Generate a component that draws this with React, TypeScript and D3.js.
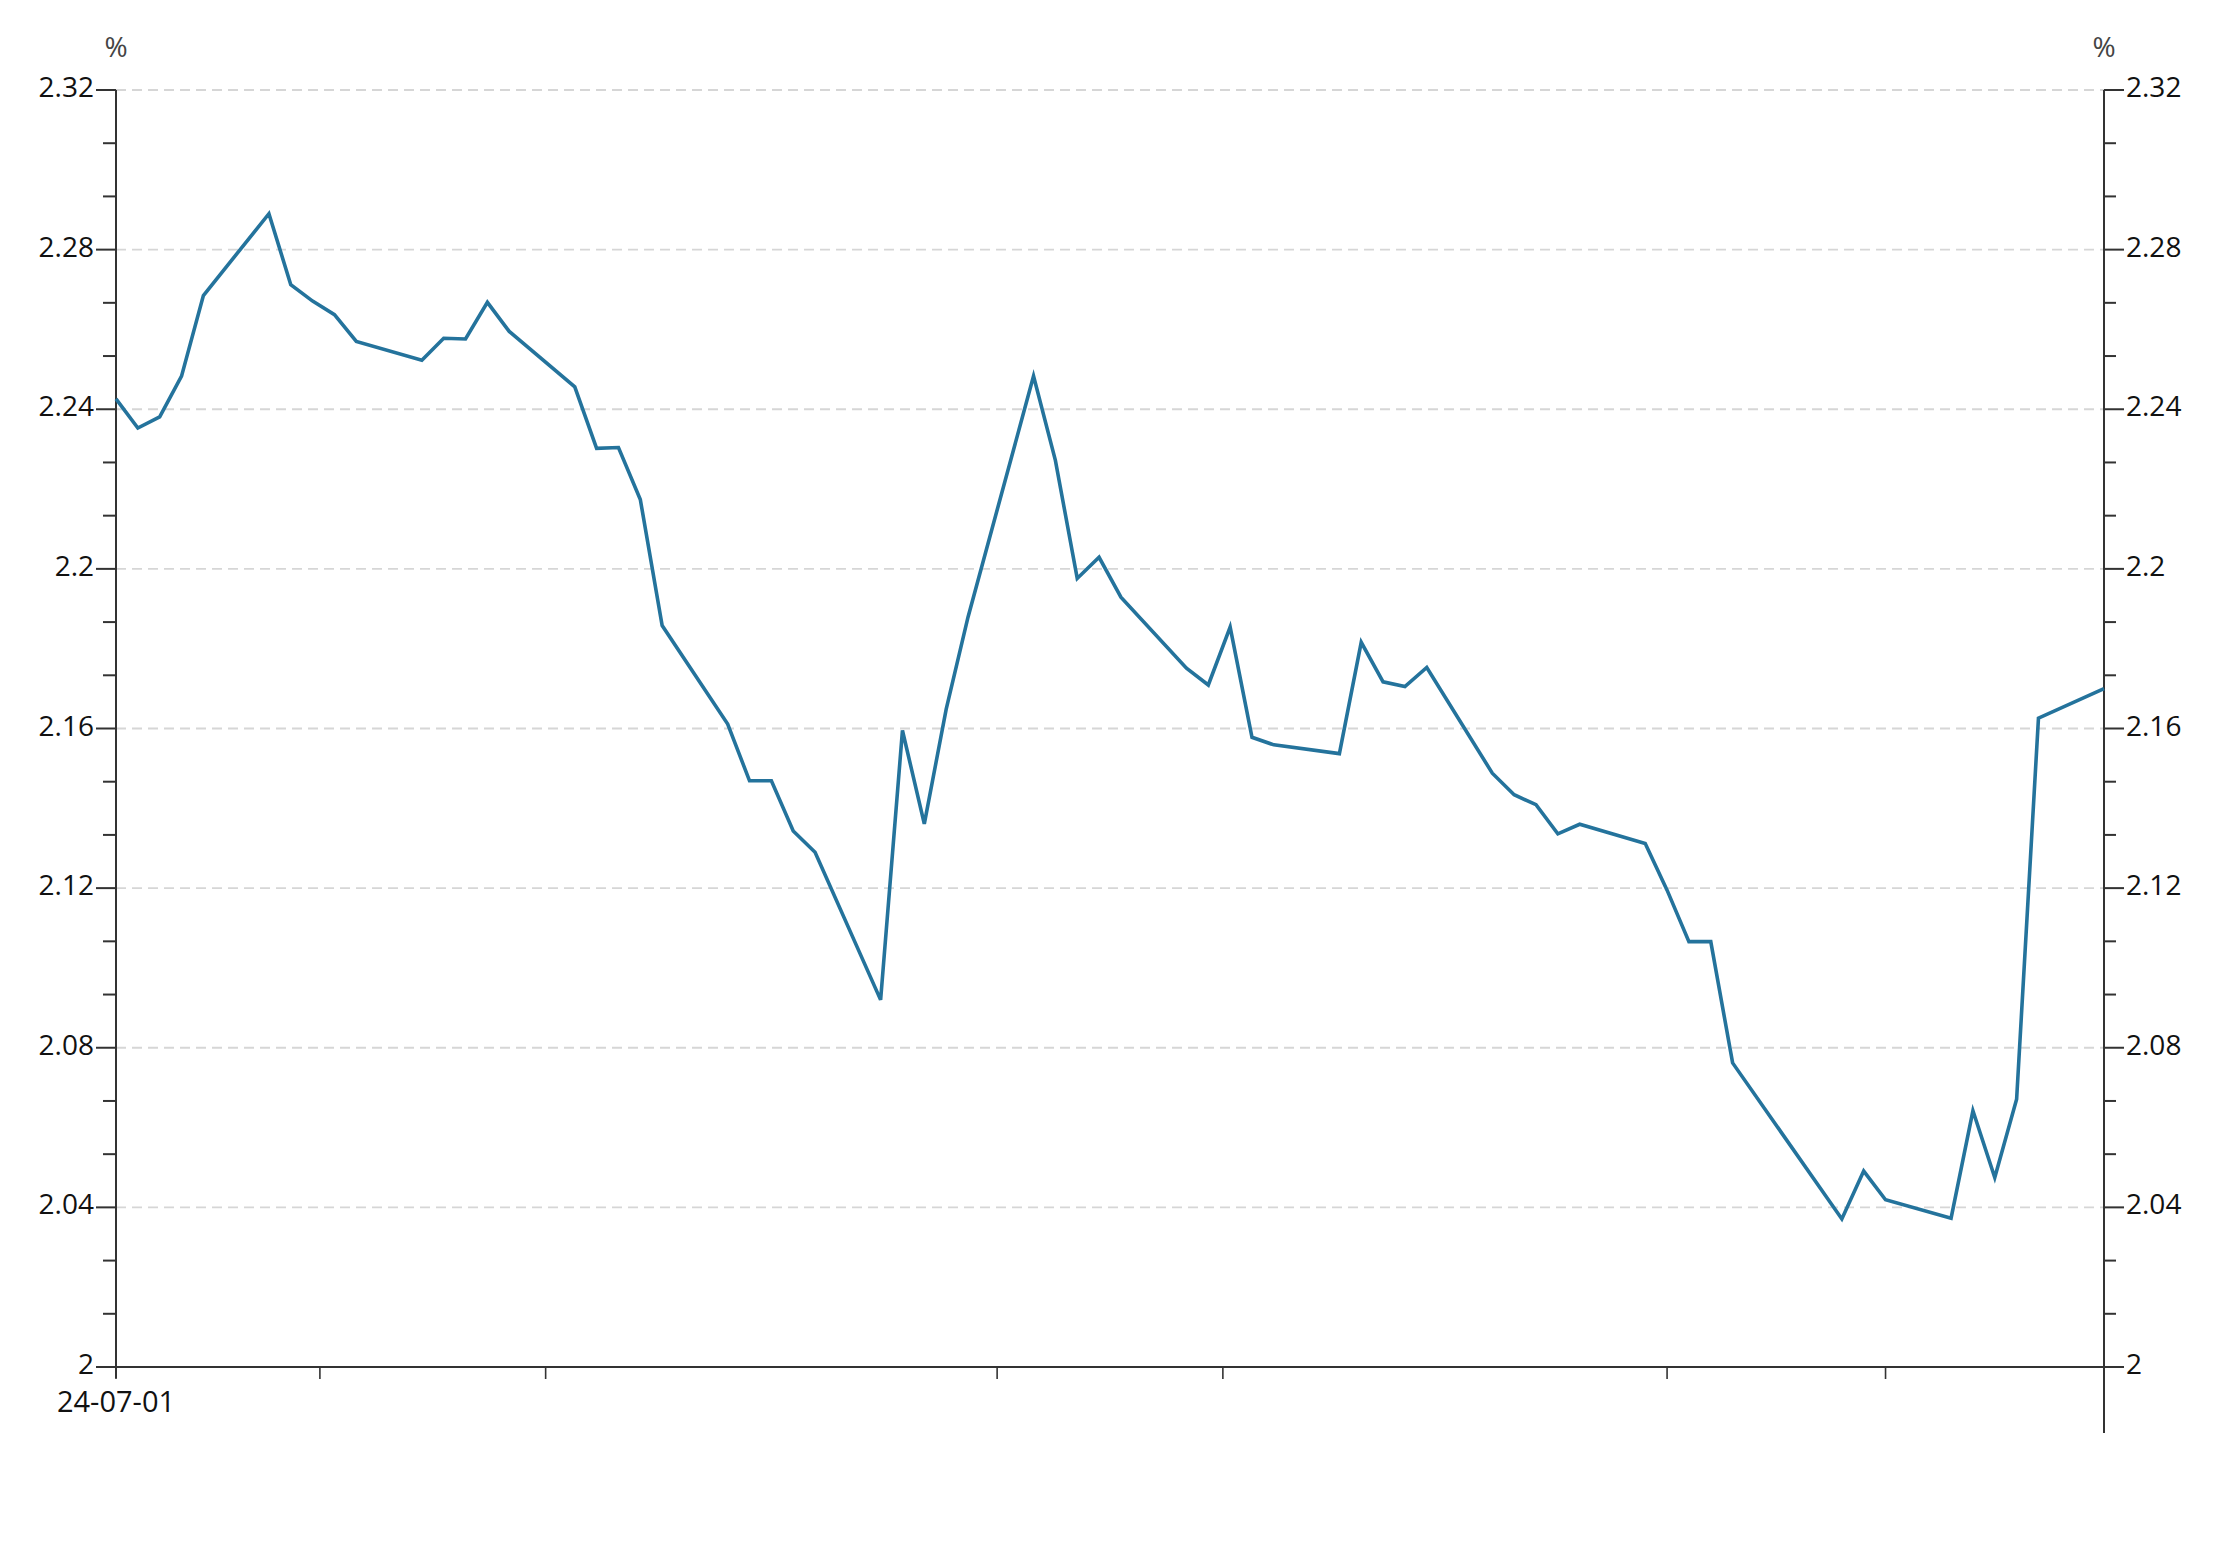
import React from "react";
import * as d3 from "d3";

// ---- data (China 10Y yield, %) ----
const dates: string[] = [
  "2024-07-01", "2024-07-02", "2024-07-03", "2024-07-04", "2024-07-05",
  "2024-07-08", "2024-07-09", "2024-07-10", "2024-07-11", "2024-07-12",
  "2024-07-15", "2024-07-16", "2024-07-17", "2024-07-18", "2024-07-19",
  "2024-07-22", "2024-07-23", "2024-07-24", "2024-07-25", "2024-07-26",
  "2024-07-29", "2024-07-30", "2024-07-31", "2024-08-01", "2024-08-02",
  "2024-08-05", "2024-08-06", "2024-08-07", "2024-08-08", "2024-08-09",
  "2024-08-12", "2024-08-13", "2024-08-14", "2024-08-15", "2024-08-16",
  "2024-08-19", "2024-08-20", "2024-08-21", "2024-08-22", "2024-08-23",
  "2024-08-26", "2024-08-27", "2024-08-28", "2024-08-29", "2024-08-30",
  "2024-09-02", "2024-09-03", "2024-09-04", "2024-09-05", "2024-09-06",
  "2024-09-09", "2024-09-10", "2024-09-11", "2024-09-12", "2024-09-13",
  "2024-09-18", "2024-09-19", "2024-09-20",
  "2024-09-23", "2024-09-24", "2024-09-25", "2024-09-26", "2024-09-27",
  "2024-09-30",
];

const values: number[] = [
  2.2426, 2.2353, 2.2381, 2.2483, 2.2685,
  2.289, 2.2712, 2.2671, 2.2637, 2.257,
  2.2523, 2.2578, 2.2576, 2.2668, 2.2595,
  2.2456, 2.2302, 2.2304, 2.2174, 2.1858,
  2.1611, 2.1469, 2.1469, 2.1343, 2.129,
  2.092, 2.1595, 2.1361, 2.1648, 2.1879,
  2.2483, 2.2272, 2.1976, 2.2029, 2.1929,
  2.1751, 2.1709, 2.1854, 2.1578, 2.1559,
  2.1537, 2.1816, 2.1717, 2.1705, 2.1753,
  2.1488, 2.1434, 2.1409, 2.1336, 2.136,
  2.1312, 2.1195, 2.1066, 2.1066, 2.0762,
  2.0371, 2.0491, 2.0419,
  2.0373, 2.0642, 2.0475, 2.0671, 2.1626,
  2.17,
];

const xDomain: string[] = ["2024-07-01", "2024-09-30"];
const xTickDates: string[] = [
  "2024-07-01T00:00", "2024-07-10T08:00", "2024-07-20T16:00",
  "2024-08-10T08:00", "2024-08-20T16:00", "2024-09-10T00:00", "2024-09-20T00:00",
];
const xTickLabels: string[] = ["24-07-01", "", "", "", "", "", ""];

const yDomain: number[] = [2, 2.32];
const yMajorTicks: number[] = [2, 2.04, 2.08, 2.12, 2.16, 2.2, 2.24, 2.28, 2.32];
const yTickLabels: string[] = ["2", "2.04", "2.08", "2.12", "2.16", "2.2", "2.24", "2.28", "2.32"];
const unitLabel = "%";

// ---- layout ----
const W = 2220;
const H = 1546;
const LEFT = 116;
const RIGHT = 2104;
const TOP = 90;
const BOTTOM = 1367;
const FONT = "'Open Sans', 'Noto Sans', sans-serif";
const LINE_COLOR = "#24739c";
const AXIS_COLOR = "#333333";
const TEXT_COLOR = "#111111";

export default function App() {
  const parse = (s: string) => new Date(s.length > 10 ? s : s + "T00:00");
  const x = d3.scaleTime().domain(xDomain.map(parse)).range([LEFT, RIGHT]);
  const y = d3.scaleLinear().domain(yDomain).range([BOTTOM, TOP]);

  const pts = dates.map((d, i) => ({ date: parse(d), value: values[i] }));
  const line = d3
    .line<{ date: Date; value: number }>()
    .x((d) => x(d.date))
    .y((d) => y(d.value));

  const step = (yMajorTicks[1] - yMajorTicks[0]) / 3;
  const allYTicks = d3.range(0, (yDomain[1] - yDomain[0]) / step + 0.5).map((i) => yDomain[0] + i * step);

  return (
    <svg
      width={W}
      height={H}
      style={{ position: "absolute", left: 0, top: 0, background: "#fff" }}
      fontFamily={FONT}
    >
      {/* grid */}
      {yMajorTicks
        .filter((v) => v !== yDomain[0])
        .map((v) => (
          <line
            key={"g" + v}
            x1={LEFT}
            x2={RIGHT}
            y1={y(v)}
            y2={y(v)}
            stroke="#d6d6d6"
            strokeWidth={1.8}
            strokeDasharray="10,6"
          />
        ))}

      {/* left axis */}
      <line x1={LEFT} x2={LEFT} y1={TOP} y2={BOTTOM + 11} stroke={AXIS_COLOR} strokeWidth={2} />
      {allYTicks.map((v, i) => {
        const major = i % 3 === 0;
        return (
          <line
            key={"lt" + i}
            x1={LEFT - (major ? 20 : 13)}
            x2={LEFT}
            y1={y(v)}
            y2={y(v)}
            stroke={AXIS_COLOR}
            strokeWidth={2}
          />
        );
      })}
      {yMajorTicks.map((v, i) => (
        <text
          key={"ll" + v}
          x={LEFT - 22}
          y={y(v) + 7}
          textAnchor="end"
          fontSize={28}
          fill={TEXT_COLOR}
        >
          {yTickLabels[i]}
        </text>
      ))}
      <text x={LEFT} y={57} textAnchor="middle" fontSize={28} fill="#444">
        {unitLabel}
      </text>

      {/* right axis */}
      <line x1={RIGHT} x2={RIGHT} y1={TOP} y2={1433} stroke={AXIS_COLOR} strokeWidth={2} />
      {allYTicks.map((v, i) => {
        const major = i % 3 === 0;
        return (
          <line
            key={"rt" + i}
            x1={RIGHT}
            x2={RIGHT + (major ? 20 : 12)}
            y1={y(v)}
            y2={y(v)}
            stroke={AXIS_COLOR}
            strokeWidth={2}
          />
        );
      })}
      {yMajorTicks.map((v, i) => (
        <text
          key={"rl" + v}
          x={RIGHT + 22}
          y={y(v) + 7}
          textAnchor="start"
          fontSize={28}
          fill={TEXT_COLOR}
        >
          {yTickLabels[i]}
        </text>
      ))}
      <text x={RIGHT} y={57} textAnchor="middle" fontSize={28} fill="#444">
        {unitLabel}
      </text>

      {/* bottom axis */}
      <line x1={LEFT} x2={RIGHT} y1={BOTTOM} y2={BOTTOM} stroke={AXIS_COLOR} strokeWidth={2} />
      {xTickDates.map((d, i) => {
        const xx = x(parse(d));
        return (
          <g key={"xt" + i}>
            <line x1={xx} x2={xx} y1={BOTTOM} y2={BOTTOM + 12} stroke={AXIS_COLOR} strokeWidth={1.6} />
            {xTickLabels[i] ? (
              <text x={xx} y={BOTTOM + 45} textAnchor="middle" fontSize={29} fill={TEXT_COLOR}>
                {xTickLabels[i]}
              </text>
            ) : null}
          </g>
        );
      })}

      {/* series */}
      <path
        d={line(pts) || ""}
        fill="none"
        stroke={LINE_COLOR}
        strokeWidth={3.6}
        strokeLinejoin="miter"
      />
    </svg>
  );
}
